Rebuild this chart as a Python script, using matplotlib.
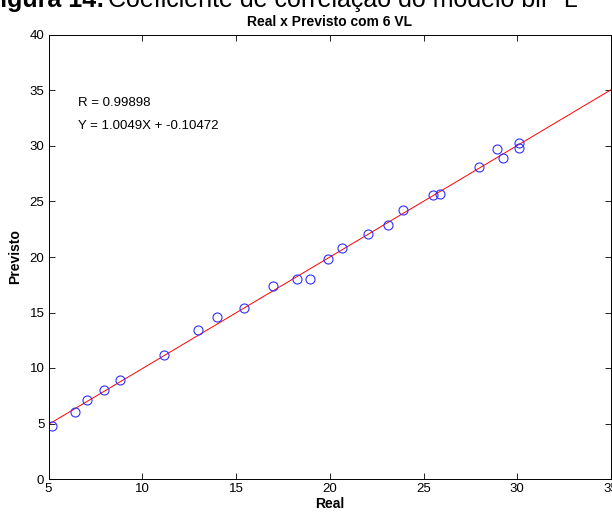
import matplotlib
matplotlib.use('Agg')
import matplotlib.pyplot as plt
import numpy as np

plt.rcParams['font.family'] = ['Liberation Sans', 'DejaVu Sans']

# values
real = [5.2, 6.4, 7.06, 7.98, 8.8, 11.17, 12.98, 14.0, 15.41, 16.98,
        18.26, 18.94, 19.91, 20.67, 22.06, 23.09, 23.9, 25.5, 25.89,
        27.94, 28.94, 29.22, 30.1, 30.1]
previsto = [4.75, 6.0, 7.1, 8.0, 8.9, 11.15, 13.4, 14.6, 15.4, 17.4,
            18.05, 18.05, 19.8, 20.85, 22.1, 22.85, 24.25, 25.6, 25.7,
            28.1, 29.75, 28.95, 30.25, 29.85]
slope = 1.0049
intercept = -0.10472
r_value = 0.99898

fig = plt.figure(figsize=(6.12, 5.13), dpi=100)
ax = fig.add_axes([48.5/612, 1 - 479/513, 562.5/612, 444/513])

xl = np.array([5, 35])
ax.plot(xl, slope * xl + intercept, color='red', lw=0.7)
ax.plot(real, previsto, 'o', mfc='none', mec='#3030ff', ms=6.5, mew=0.8)

ax.set_xlim(5, 35)
ax.set_ylim(0, 40)
ax.set_xticks(range(5, 36, 5))
ax.set_yticks(range(0, 41, 5))
ax.tick_params(direction='in', length=4, labelsize=9.5, top=True, right=True,
               width=0.6, pad=3)
for s in ax.spines.values():
    s.set_linewidth(0.7)

ax.text(6.6, 33.9, 'R = %.5f' % r_value, fontsize=9.5, va='center')
ax.text(6.6, 31.8, 'Y = %.4fX + %.5f' % (slope, intercept), fontsize=9.5, va='center')

ax.set_xlabel('Real', fontsize=10, fontweight='bold', labelpad=1)
ax.set_ylabel('Previsto', fontsize=10, fontweight='bold', labelpad=5)
ax.set_title('Real x Previsto com 6 VL', fontsize=10, fontweight='bold', pad=6.5)

# caption cut off at the top of the scan
fig.text(-15/612, 1 - 7/513, 'Figura 14:', fontsize=18, fontweight='bold',
         va='baseline', ha='left')
fig.text(108/612, 1 - 7/513, 'Coeficiente de correlação do modelo blP L',
         fontsize=18, va='baseline', ha='left')

fig.savefig('out.png', dpi=100)
